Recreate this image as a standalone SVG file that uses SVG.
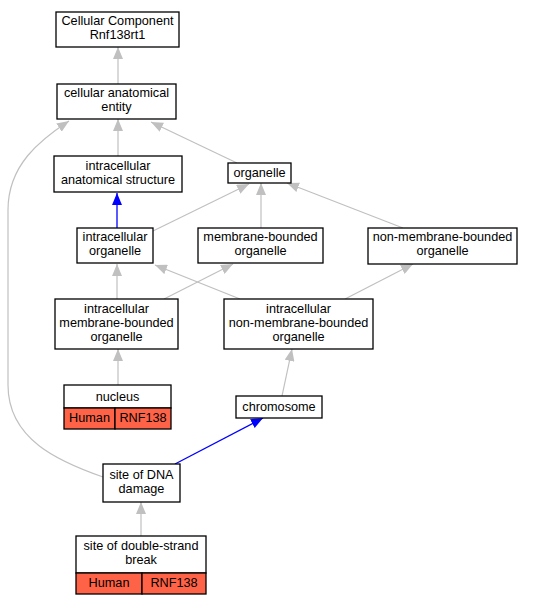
<svg xmlns="http://www.w3.org/2000/svg" width="534" height="605" viewBox="0 0 534 605">
<defs>
<marker id="ag" markerWidth="12" markerHeight="10" refX="12" refY="5" orient="auto" markerUnits="userSpaceOnUse"><path d="M0,0 L12,5 L0,10 z" fill="#c0c0c0"/></marker>
<marker id="ab" markerWidth="12" markerHeight="10" refX="12" refY="5" orient="auto" markerUnits="userSpaceOnUse"><path d="M0,0 L12,5 L0,10 z" fill="#0000ff"/></marker>
</defs>
<style>
.n{fill:#fff;stroke:#000;stroke-width:1.3}
.r{fill:#ff6347;stroke:#000;stroke-width:1.3}
text{font-family:"Liberation Sans",Arial,sans-serif;font-size:12.7px;text-anchor:middle;fill:#000}
.e{fill:none;stroke:#c0c0c0;stroke-width:1.2;marker-end:url(#ag)}
.b{fill:none;stroke:#0000ff;stroke-width:1.3;marker-end:url(#ab)}
</style>
<rect width="534" height="605" fill="#fff"/>
<g id="edges">
<path class="e" d="M118,84 L118,47"/>
<path class="e" d="M118,156 L118,119"/>
<path class="e" d="M237,163 L151,122"/>
<path class="e" d="M103,477 C60,462 8,440 8,385 L8,210 C8,165 40,140 69,121"/>
<path class="b" d="M117,228 L117,193"/>
<path class="e" d="M153,231 L249,184"/>
<path class="e" d="M261,228 L261,183"/>
<path class="e" d="M403,228 L287,183"/>
<path class="e" d="M117,299 L117,264"/>
<path class="e" d="M164,299 L233,264"/>
<path class="e" d="M240,299 L155,265"/>
<path class="e" d="M345,299 L413,264"/>
<path class="e" d="M118,385 L118,349"/>
<path class="e" d="M282,396 L292,349"/>
<path class="b" d="M175,464 L263,418"/>
<path class="e" d="M141,536 L141,502"/>
</g>
<g id="n1"><rect class="n" x="56" y="12" width="123" height="35"/><text x="117.5" y="25">Cellular Component</text><text x="117.5" y="39">Rnf138rt1</text></g>
<g id="n2"><rect class="n" x="57" y="84" width="119" height="35"/><text x="116.5" y="97">cellular anatomical</text><text x="116.5" y="111">entity</text></g>
<g id="n3"><rect class="n" x="54" y="156" width="128" height="36"/><text x="118" y="170">intracellular</text><text x="118" y="184">anatomical structure</text></g>
<g id="n4"><rect class="n" x="228" y="163" width="63" height="20"/><text x="259.5" y="177">organelle</text></g>
<g id="n5"><rect class="n" x="77" y="228" width="76" height="35"/><text x="115" y="241">intracellular</text><text x="115" y="255">organelle</text></g>
<g id="n6"><rect class="n" x="198" y="228" width="125" height="35"/><text x="260.5" y="241">membrane-bounded</text><text x="260.5" y="255">organelle</text></g>
<g id="n7"><rect class="n" x="368" y="228" width="149" height="36"/><text x="442.5" y="241">non-membrane-bounded</text><text x="442.5" y="255">organelle</text></g>
<g id="n8"><rect class="n" x="55" y="299" width="123" height="50"/><text x="116.5" y="313">intracellular</text><text x="116.5" y="327">membrane-bounded</text><text x="116.5" y="341">organelle</text></g>
<g id="n9"><rect class="n" x="224" y="299" width="149" height="50"/><text x="298.5" y="313">intracellular</text><text x="298.5" y="327">non-membrane-bounded</text><text x="298.5" y="341">organelle</text></g>
<g id="n10"><rect class="n" x="64" y="385" width="107" height="23"/><text x="117.5" y="401">nucleus</text><rect class="r" x="64" y="408" width="51" height="21"/><rect class="r" x="115" y="408" width="56" height="21"/><text x="89.5" y="422">Human</text><text x="143" y="422">RNF138</text></g>
<g id="n11"><rect class="n" x="236" y="396" width="86" height="22"/><text x="279" y="411">chromosome</text></g>
<g id="n12"><rect class="n" x="103" y="464" width="77" height="38"/><text x="141.5" y="479">site of DNA</text><text x="141.5" y="493">damage</text></g>
<g id="n13"><rect class="n" x="76" y="536" width="130" height="37"/><text x="141" y="550">site of double-strand</text><text x="141" y="564">break</text><rect class="r" x="76" y="573" width="66" height="21"/><rect class="r" x="142" y="573" width="64" height="21"/><text x="109" y="587">Human</text><text x="174" y="587">RNF138</text></g>
</svg>
